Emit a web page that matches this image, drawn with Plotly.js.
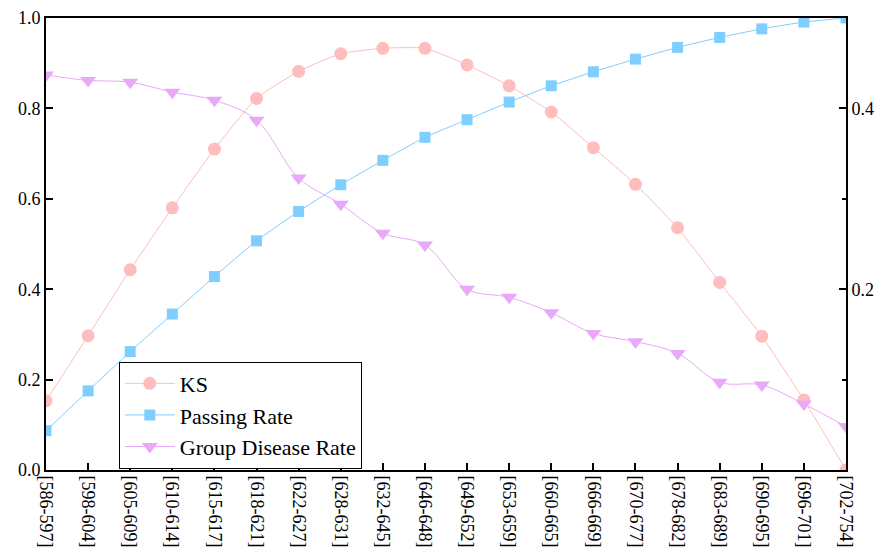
<!DOCTYPE html>
<html>
<head>
<meta charset="utf-8">
<script src="https://cdn.plot.ly/plotly-3.0.1.min.js"></script>
<style>html,body{margin:0;padding:0;background:#fff;}#chart{width:885px;height:557px;}</style>
</head>
<body>
<div id="chart"></div>
<script>
const categories = ["[586-597]","[598-604]","[605-609]","[610-614]","[615-617]","[618-621]","[622-627]","[628-631]","[632-645]","[646-648]","[649-652]","[653-659]","[660-665]","[666-669]","[670-677]","[678-682]","[683-689]","[690-695]","[696-701]","[702-754]"];
const ksValues = [0.153,0.297,0.443,0.580,0.710,0.822,0.882,0.921,0.933,0.933,0.896,0.850,0.792,0.713,0.632,0.536,0.415,0.296,0.155,0.0];
const passingRate = [0.087,0.175,0.262,0.345,0.428,0.507,0.572,0.631,0.685,0.736,0.775,0.814,0.850,0.881,0.909,0.935,0.957,0.976,0.991,1.0];
const groupDiseaseRate = [0.437,0.431,0.429,0.418,0.409,0.387,0.323,0.294,0.262,0.249,0.200,0.191,0.174,0.151,0.142,0.129,0.097,0.094,0.073,0.048];

const FAMILY = 'Liberation Serif';
const tickFont = {family: FAMILY, size: 18, color: '#000'};
const legendFont = {family: FAMILY, size: 22, color: '#000'};
const traces = [
  {x: categories, y: ksValues, name: 'KS', type: 'scatter', mode: 'lines+markers',
   line: {color: '#FFBDBD', width: 1, shape: 'spline', smoothing: 0.5},
   marker: {symbol: 'circle', size: 13, color: '#FFBDBD'}},
  {x: categories, y: passingRate, name: 'Passing Rate', type: 'scatter', mode: 'lines+markers',
   line: {color: '#7ECFFF', width: 1, shape: 'spline', smoothing: 0.5},
   marker: {symbol: 'square', size: 11, color: '#7ECFFF'}},
  {x: categories, y: groupDiseaseRate, name: 'Group Disease Rate', type: 'scatter', mode: 'lines+markers', yaxis: 'y2',
   line: {color: '#E9A8F8', width: 1, shape: 'spline', smoothing: 1},
   marker: {symbol: 'triangle-down', size: 14, color: '#E9A8F8'}}
];
const layout = {
  width: 885, height: 557,
  margin: {l: 46, r: 39, t: 18, b: 87},
  paper_bgcolor: '#fff', plot_bgcolor: '#fff',
  font: tickFont,
  showlegend: true,
  legend: {x: 0.091, y: 0.24, xanchor: 'left', yanchor: 'top', bgcolor: '#fff',
           bordercolor: '#000', borderwidth: 1, font: legendFont, tracegroupgap: 0,
           itemwidth: 50},
  xaxis: {type: 'category', range: [0, 19], showgrid: false, zeroline: false,
          showline: true, linecolor: '#000', linewidth: 2, mirror: true,
          ticks: 'inside', ticklen: 7, tickwidth: 1.5, tickcolor: '#000',
          tickangle: 90, tickfont: tickFont},
  yaxis: {range: [0, 1], showgrid: false, zeroline: false,
          showline: true, linecolor: '#000', linewidth: 2,
          ticks: 'inside', ticklen: 7, tickwidth: 1.5, tickcolor: '#000',
          tickvals: [0, 0.2, 0.4, 0.6, 0.8, 1.0], ticktext: ['0.0','0.2','0.4','0.6','0.8','1.0'],
          tickfont: tickFont},
  yaxis2: {range: [0, 0.5], overlaying: 'y', side: 'right', showgrid: false, zeroline: false,
           showline: true, linecolor: '#000', linewidth: 2,
           ticks: 'inside', ticklen: 7, tickwidth: 1.5, tickcolor: '#000',
           tickvals: [0.2, 0.4], ticktext: ['0.2','0.4'], tickfont: tickFont,
           minor: {tickvals: [0.1, 0.3], ticks: 'inside', ticklen: 4, tickwidth: 1.5, tickcolor: '#000'}}
};
Plotly.newPlot('chart', traces, layout, {displayModeBar: false, responsive: false});
</script>
</body>
</html>
